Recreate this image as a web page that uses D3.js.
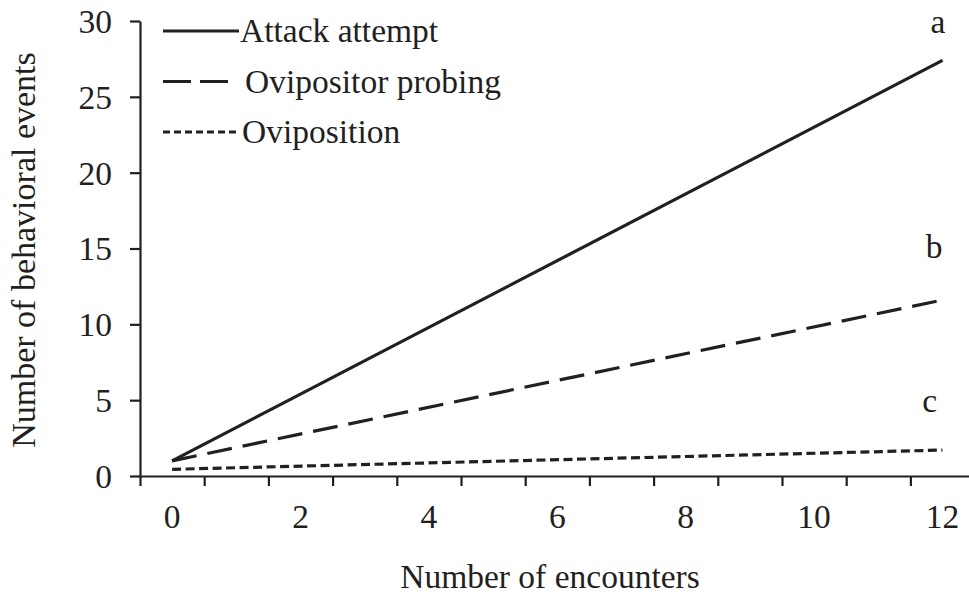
<!DOCTYPE html>
<html>
<head>
<meta charset="utf-8">
<script src="https://cdn.jsdelivr.net/npm/d3@7"></script>
<style>
  html, body { margin: 0; padding: 0; background: #fff; }
  svg { display: block; }
  text { font-family: "Liberation Serif", "Times New Roman", serif; fill: #231f20; }
</style>
</head>
<body>
<svg id="chart" width="969" height="597"></svg>
<script>
// Fitted trend lines: number of behavioral events vs. number of encounters
const encounters = [0, 12];
const attackAttempt = [1.0, 27.4];
const ovipositorProbing = [1.0, 11.6];
const oviposition = [0.44, 1.71];

const seriesNames = ["Attack attempt", "Ovipositor probing", "Oviposition"];
const groupLetters = ["a", "b", "c"];
const xTickLabels = [0, 2, 4, 6, 8, 10, 12];
const yTickLabels = [0, 5, 10, 15, 20, 25, 30];

const ink = "#231f20";
const fontSize = 33.5;
const dashes = [null, "25,11", "9,4.5"];

const svg = d3.select("#chart");
const x = d3.scaleLinear().domain([-0.5, 12.5]).range([140, 974.6]);
const y = d3.scaleLinear().domain([0, 30]).range([476, 21]);

// y axis
const yAxis = svg.append("g").attr("transform", `translate(${x(-0.5)},0)`)
  .call(d3.axisLeft(y).tickValues(yTickLabels).tickSize(10).tickPadding(18).tickSizeOuter(0));
yAxis.attr("font-family", null).attr("font-size", null);
yAxis.select(".domain").attr("stroke", ink).attr("stroke-width", 2.2);
yAxis.selectAll(".tick line").attr("stroke", ink).attr("stroke-width", 2.2);
yAxis.selectAll(".tick text").attr("font-size", fontSize).attr("fill", ink).attr("dy", "0.34em");

// x axis: tick marks between categories, labels on even categories
const boundaries = d3.range(-0.5, 12.6, 1);
const xAxis = svg.append("g").attr("transform", `translate(0,${y(0)})`)
  .call(d3.axisBottom(x).tickValues(boundaries).tickSize(10).tickFormat("").tickSizeOuter(0));
xAxis.select(".domain").attr("stroke", ink).attr("stroke-width", 2.2);
xAxis.selectAll(".tick line").attr("stroke", ink).attr("stroke-width", 2.2);

svg.append("g").selectAll("text").data(xTickLabels).join("text")
  .attr("x", d => x(d)).attr("y", y(0) + 52)
  .attr("text-anchor", "middle").attr("font-size", fontSize).text(d => d);

// series lines
const seriesValues = [attackAttempt, ovipositorProbing, oviposition];
const line = d3.line().x(d => x(d[0])).y(d => y(d[1]));
seriesValues.forEach((vals, i) => {
  svg.append("path")
    .datum(encounters.map((e, j) => [e, vals[j]]))
    .attr("d", line)
    .attr("fill", "none")
    .attr("stroke", ink)
    .attr("stroke-width", 3.2)
    .attr("stroke-dasharray", dashes[i]);
});

// group letters above line ends
const letterPos = [[11.93, 29.2], [11.87, 14.4], [11.8, 4.2]];
svg.append("g").selectAll("text").data(groupLetters).join("text")
  .attr("x", (d, i) => x(letterPos[i][0])).attr("y", (d, i) => y(letterPos[i][1]))
  .attr("text-anchor", "middle").attr("font-size", fontSize).text(d => d);

// legend
const legend = svg.append("g");
const legendDash = [null, "28,9", "7,4"];
const legendEnd = [239, 228, 240];
const legendTextX = [240, 245, 242];
seriesNames.forEach((name, i) => {
  const ly = 31 + i * 50.5;
  legend.append("line")
    .attr("x1", 163).attr("x2", legendEnd[i]).attr("y1", ly).attr("y2", ly)
    .attr("stroke", ink).attr("stroke-width", 3.2)
    .attr("stroke-dasharray", legendDash[i]);
  legend.append("text")
    .attr("x", legendTextX[i]).attr("y", ly + 11)
    .attr("font-size", fontSize).text(name);
});

// axis titles
svg.append("text")
  .attr("x", 550).attr("y", 588)
  .attr("text-anchor", "middle").attr("font-size", fontSize)
  .text("Number of encounters");
svg.append("text")
  .attr("transform", `translate(35,250) rotate(-90)`)
  .attr("text-anchor", "middle").attr("font-size", 34)
  .text("Number of behavioral events");
</script>
</body>
</html>
